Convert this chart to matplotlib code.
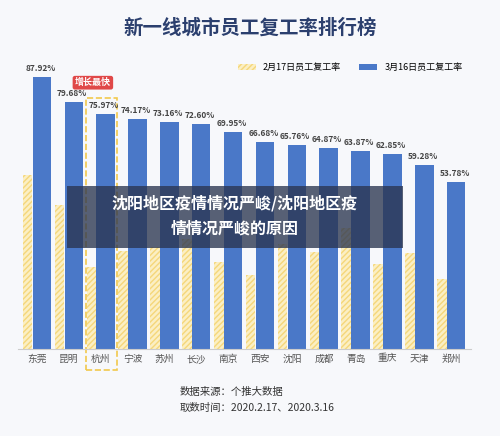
import matplotlib.pyplot as plt
from matplotlib.patches import Rectangle
import numpy as np

plt.rcParams['font.family'] = ['Noto Sans CJK SC', 'DejaVu Sans']

cities = ["东莞", "昆明", "杭州", "宁波", "苏州", "长沙", "南京", "西安", "沈阳", "成都", "青岛", "重庆", "天津", "郑州"]
feb17 = [56.2, 46.4, 26.5, 31.7, 33.0, 35.6, 28.0, 24.0, 34.0, 31.4, 38.9, 27.5, 31.0, 22.5]
mar16 = [87.92, 79.68, 75.97, 74.17, 73.16, 72.60, 69.95, 66.68, 65.76, 64.87, 63.87, 62.85, 59.28, 53.78]

blue = "#4a78c8"
yellow = "#f5d77a"

fig = plt.figure(figsize=(5.0, 4.36), dpi=100)
fig.patch.set_facecolor("#f7f8fb")
ax = fig.add_axes([0.036, 0.2, 0.905, 0.66])
ax.set_facecolor("#f7f8fb")

x = np.arange(len(cities))
wy, wb = 0.3, 0.58
ax.bar(x - 0.3, feb17, wy, color="#fbefc4", edgecolor=yellow, hatch="//////", linewidth=0, label="2月17日员工复工率")
ax.bar(x + 0.15, mar16, wb, color=blue, label="3月16日员工复工率")
for xi, v in zip(x, mar16):
    ax.text(xi + 0.1, v + 1.3, f"{v:.2f}%", ha="center", va="bottom", fontsize=6, color="#444", fontweight="bold")

ax.set_xlim(-0.6, len(cities) - 0.4)
ax.set_ylim(0, 93)
ax.set_xticks(x)
ax.set_xticklabels(cities, fontsize=7, color="#555")
ax.set_yticks([])
ax.tick_params(length=0)
for s in ["top", "right", "left"]:
    ax.spines[s].set_visible(False)
ax.spines["bottom"].set_color("#cccccc")

# highlight box around 杭州
ax.add_patch(Rectangle((1.52, -7), 0.98, 88, fill=False, ls="--", ec="#f2c94c", lw=1.2, clip_on=False))
ax.text(1.75, 86, "增长最快", fontsize=6.5, color="white", fontweight="bold", ha="center", va="center",
        bbox=dict(boxstyle="round,pad=0.25", fc="#e04848", ec="none"))

ax.legend(loc="upper right", bbox_to_anchor=(1.0, 1.02), ncol=2, frameon=False, fontsize=6.5)

fig.text(0.5, 0.935, "新一线城市员工复工率排行榜", ha="center", va="center", fontsize=14, fontweight="bold", color="#2b3f6e")
fig.text(0.36, 0.1, "数据来源：个推大数据", fontsize=7.5, color="#333", va="center")
fig.text(0.36, 0.065, "取数时间：2020.2.17、2020.3.16", fontsize=7.5, color="#333", va="center")

# overlay caption
fig.patches.append(Rectangle((0.134, 0.432), 0.672, 0.142, transform=fig.transFigure, fc="#2a3550", alpha=0.78, ec="none"))
fig.text(0.47, 0.533, "沈阳地区疫情情况严峻/沈阳地区疫", ha="center", va="center", fontsize=11.5, fontweight="bold", color="white")
fig.text(0.47, 0.475, "情情况严峻的原因", ha="center", va="center", fontsize=11.5, fontweight="bold", color="white")

fig.savefig("out.png", dpi=100)
